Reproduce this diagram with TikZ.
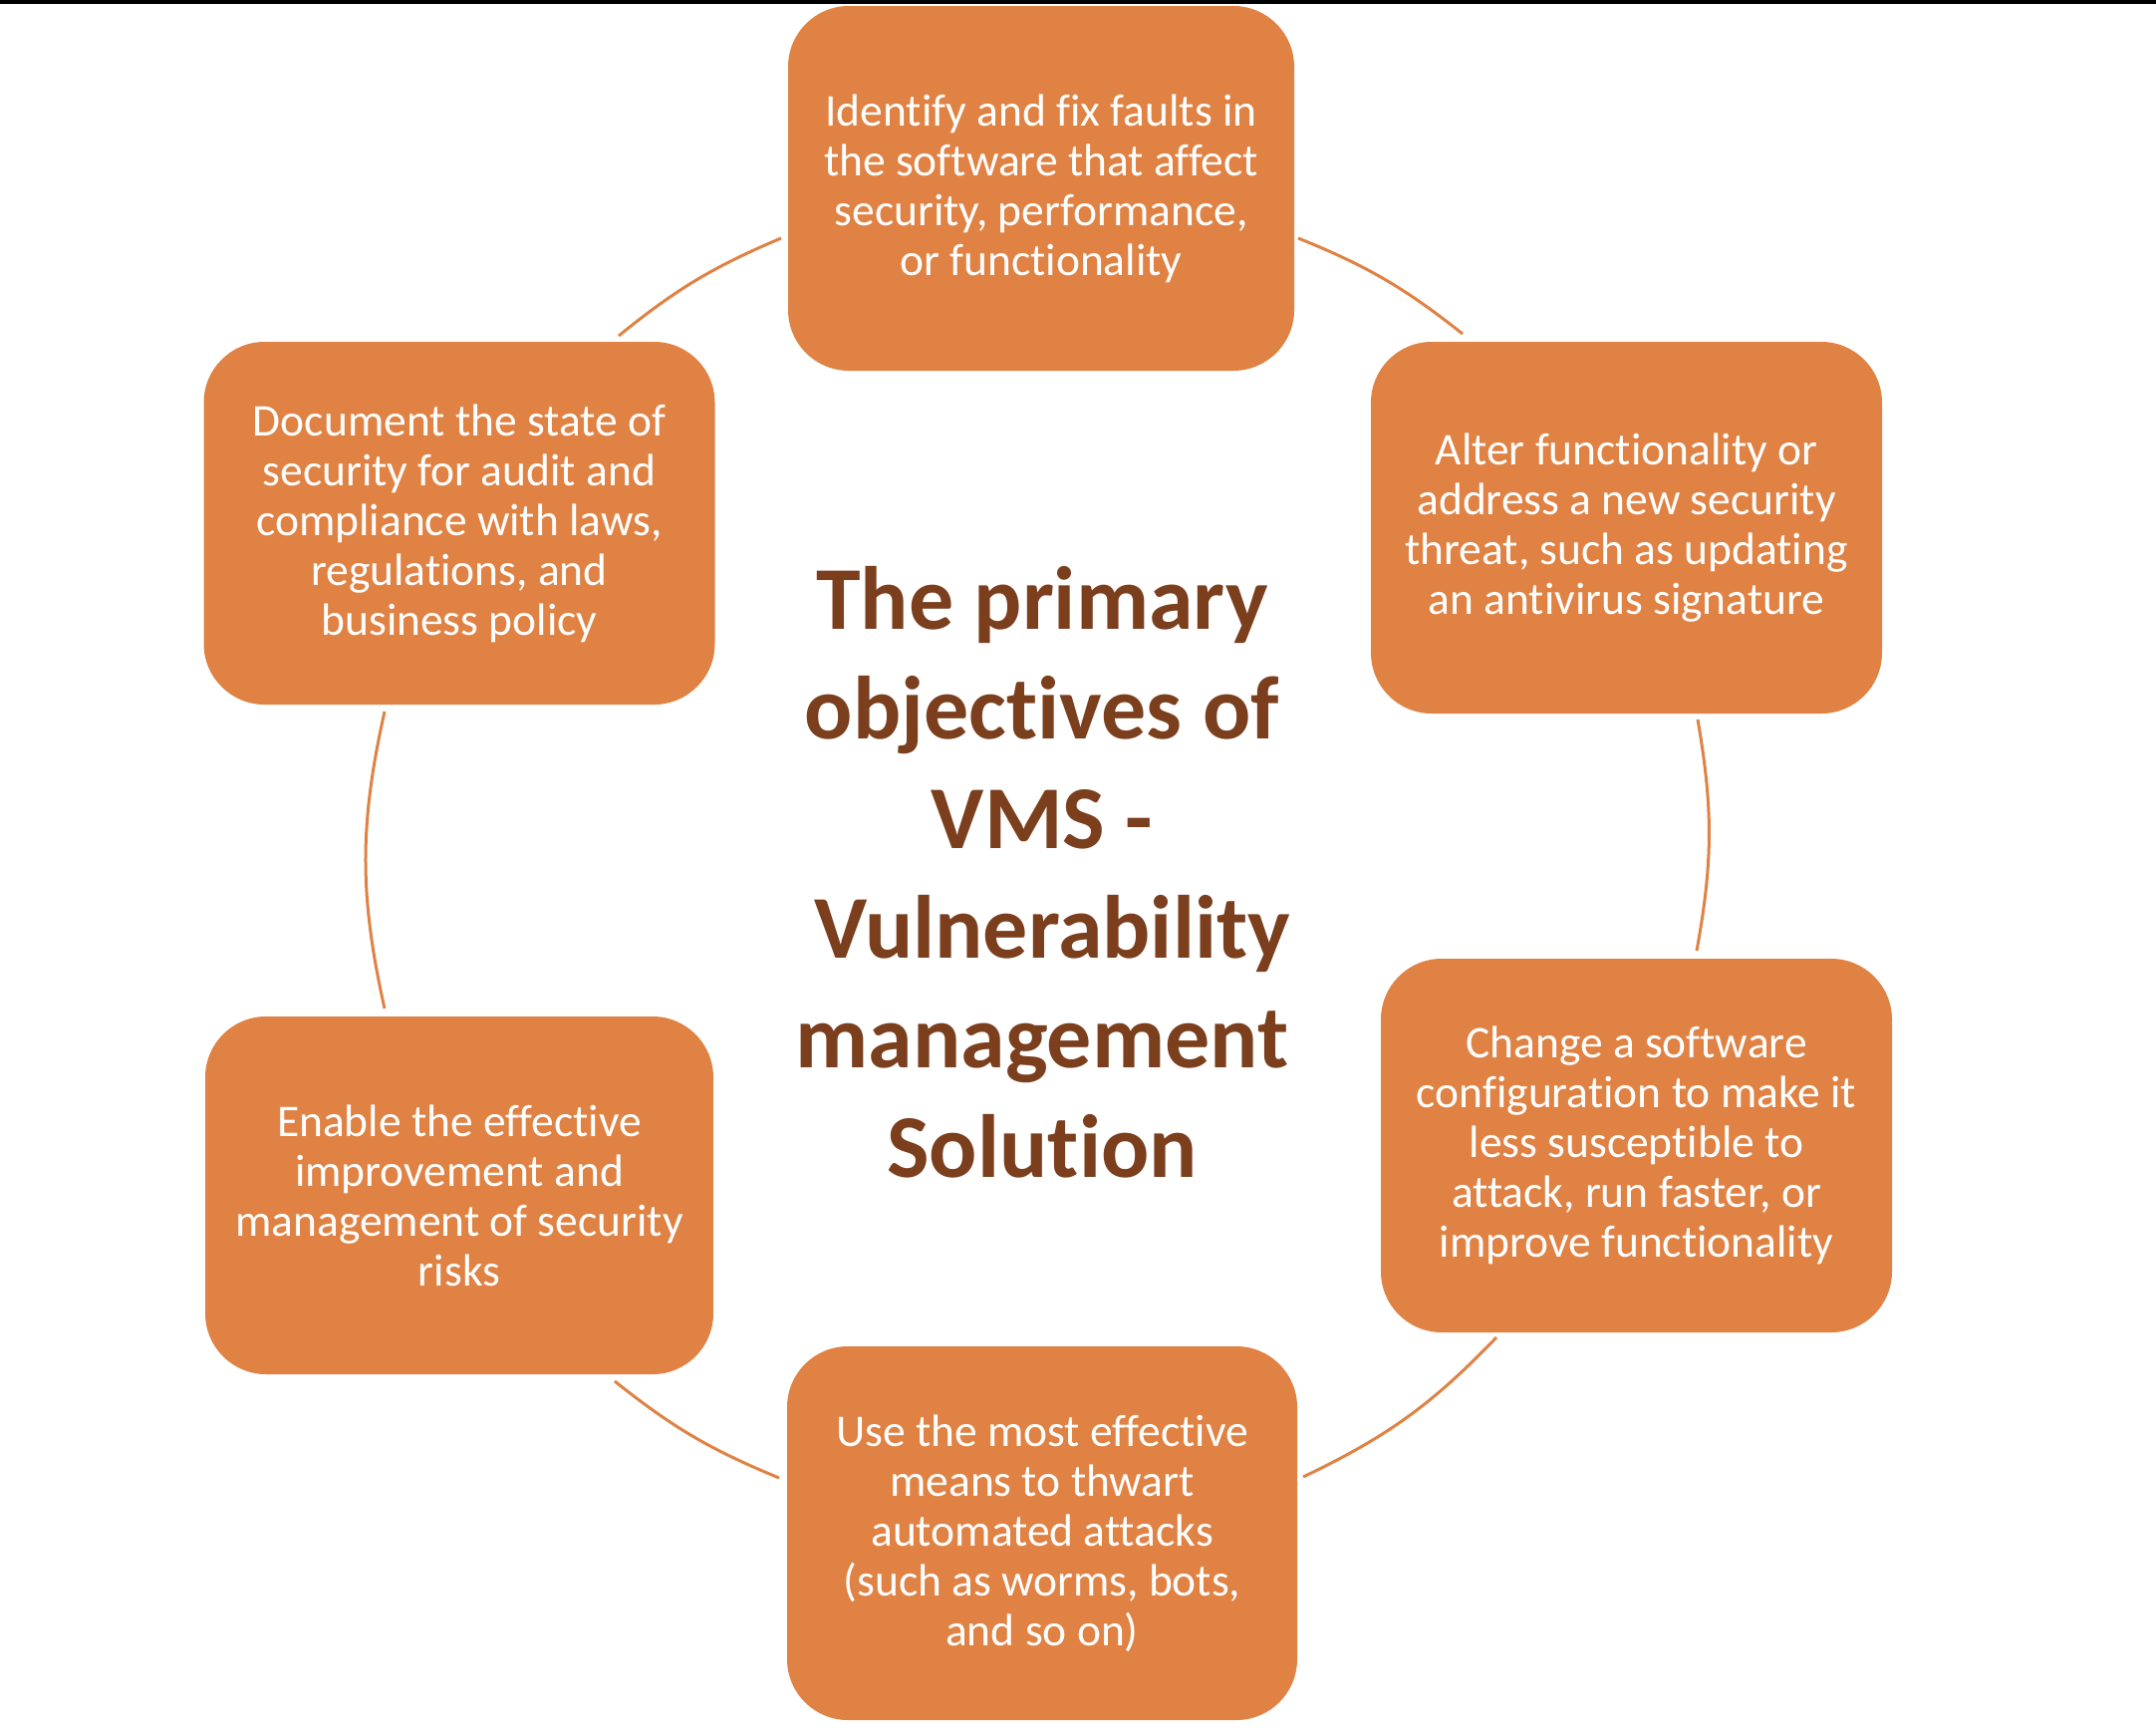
\documentclass[tikz,border=0pt]{standalone}
\usepackage{fontspec}
\setmainfont{Carlito}[Ligatures={NoCommon,NoContextual}]
\definecolor{boxfill}{HTML}{DF8244}
\definecolor{arccol}{HTML}{DF8244}
\definecolor{titlecol}{HTML}{7B3F1E}
\tikzset{
  obj/.style={rectangle, rounded corners=61pt, fill=boxfill, text=white, align=center, inner sep=0pt,
    font=\fontsize{45.5}{50}\selectfont},
  ring/.style={draw=arccol, line width=3pt},
  titletext/.style={align=center, inner sep=0pt, text=titlecol, font=\fontsize{90}{110}\selectfont\bfseries},
}
\begin{document}
\begin{tikzpicture}[x=1pt,y=-1pt]
\useasboundingbox (0,0) rectangle (2164,1738);
\fill[black] (0,0) rectangle (2164,4);

\node[obj, minimum width=508pt, minimum height=366pt] (top) at (1045,189)
  {Identify and fix faults in\\the software that affect\\security, performance,\\or functionality};
\node[obj, minimum width=513pt, minimum height=373pt] (ur) at (1632.5,529.5)
  {Alter functionality or\\address a new security\\threat, such as updating\\an antivirus signature};
\node[obj, minimum width=513pt, minimum height=375pt] (lr) at (1642.5,1149.5)
  {Change a software\\configuration to make it\\less susceptible to\\attack, run faster, or\\improve functionality};
\node[obj, minimum width=512pt, minimum height=375pt] (bot) at (1046,1538.5)
  {Use the most effective\\means to thwart\\automated attacks\\(such as worms, bots,\\and so on)};
\node[obj, minimum width=510pt, minimum height=359pt] (ll) at (461,1199.5)
  {Enable the effective\\improvement and\\management of security\\risks};
\node[obj, minimum width=513pt, minimum height=364pt] (ul) at (461,525)
  {Document the state of\\security for audit and\\compliance with laws,\\regulations, and\\business policy};

\node[titletext] (title) at (1046,875)
  {The primary\\objectives of\\VMS -\\\hspace*{0.226em}Vulnerability\\management\\Solution};

\coordinate (a1s) at (621,337);   \coordinate (a1e) at (784,239);
\coordinate (a2s) at (1303,239);  \coordinate (a2e) at (1468,335);
\coordinate (a3s) at (1704,722);  \coordinate (a3e) at (1703,954);
\coordinate (a4s) at (1502,1342); \coordinate (a4e) at (1308,1482);
\coordinate (a5s) at (782,1483);  \coordinate (a5e) at (617,1386);
\coordinate (a6s) at (386,1012);  \coordinate (a6e) at (386,714);

\draw[ring] (a1s) to[bend left=8.1] (a1e);
\draw[ring] (a2s) to[bend left=8.2] (a2e);
\draw[ring] (a3s) to[bend left=10.1] (a3e);
\draw[ring] (a4s) to[bend left=10.3] (a4e);
\draw[ring] (a5s) to[bend left=8.1] (a5e);
\draw[ring] (a6s) to[bend left=12.6] (a6e);
\end{tikzpicture}
\end{document}
